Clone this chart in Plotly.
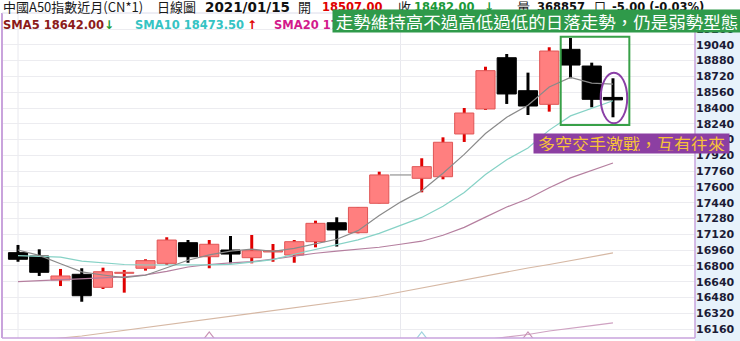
import plotly.graph_objects as go

# ---------------- data ----------------
opens  = [16935, 16901, 16658, 16716, 16584, 16726, 16777, 16827, 17036, 16894,
          16962, 16884, 16942, 16911, 17046, 17238, 17137, 17435, 17722, 17688,
          17704, 18137, 18390, 18909, 18575, 18437, 18994, 18825, 18507]
highs  = [17013, 16969, 16770, 16777, 16783, 16759, 16868, 17091, 17063, 17063,
          17104, 17114, 17023, 17063, 17259, 17293, 17394, 17755, 17722, 17891,
          18103, 18400, 18818, 18947, 18758, 19015, 19109, 18859, 18701]
lows   = [16843, 16699, 16597, 16438, 16567, 16530, 16753, 16810, 16833, 16777,
          16827, 16827, 16843, 16833, 16989, 16997, 17131, 17435, 17722, 17546,
          17678, 18056, 18380, 18441, 18329, 18363, 18701, 18407, 18306]
closes = [16868, 16736, 16699, 16499, 16742, 16736, 16854, 17063, 16894, 17020,
          16921, 16955, 16955, 17046, 17232, 17165, 17394, 17722, 17722, 17806,
          18053, 18349, 18778, 18542, 18420, 18977, 18835, 18488, 18482]

sma5  = [16962, 16907, 16823, 16740, 16709, 16682, 16706, 16779, 16858, 16913,
         16950, 16971, 16949, 16979, 17022, 17071, 17158, 17312, 17447, 17562,
         17739, 17930, 18142, 18306, 18428, 18613, 18710, 18652, 18642]
sma10 = [16905, 16900, 16890, 16850, 16830, 16815, 16810, 16808, 16808, 16811,
         16816, 16838, 16864, 16919, 16968, 17011, 17065, 17130, 17213, 17292,
         17405, 17544, 17727, 17876, 17995, 18176, 18320, 18397, 18474]
sma20 = [16641, 16650, 16660, 16668, 16678, 16689, 16710, 16745, 16790, 16815,
         16832, 16845, 16870, 16900, 16929, 16950, 16968, 16990, 17020, 17051,
         17111, 17191, 17295, 17397, 17481, 17593, 17692, 17764, 17843]
sma60 = [16014, 16042, 16071, 16091, 16119, 16149, 16177, 16206, 16234, 16262,
         16291, 16320, 16348, 16377, 16406, 16435, 16463, 16496, 16537, 16577,
         16618, 16658, 16699, 16739, 16780, 16815, 16856, 16896, 16932]
sma120_start = 18
sma120 = [15950, 15975, 16000, 16025, 16050, 16076, 16106, 16142, 16172, 16197, 16223]

marker_idx = [9, 19, 24]
marker_colors = ["#c893b4", "#9fd3df", "#c893b4"]

tick_labels = ["16160", "16320", "16480", "16640", "16800", "16960", "17120", "17280",
               "17440", "17600", "17760", "17920", "18080", "18240", "18400", "18560",
               "18720", "18880", "19040", "19200"]

# ---------------- geometry helpers ----------------
W, H = 740, 341
L, R, T, B = 2, 45, 13, 3
def px(x):
    return (x - L) / (W - L - R)
def py(y):
    return (H - B - y) / (H - T - B)

n = len(closes)
idx = list(range(n))

inc = [i for i in idx if closes[i] > opens[i]]
dec = [i for i in idx if closes[i] < opens[i]]
flat = [i for i in idx if closes[i] == opens[i] and highs[i] == lows[i]]

RED = "#e00000"
PINK = "#ff7f7f"

fig = go.Figure()

# wicks (drawn first so bodies cover them)
fig.add_trace(go.Bar(x=inc, base=[lows[i] for i in inc],
                     y=[highs[i] - lows[i] for i in inc], width=0.14,
                     marker=dict(color=RED, line=dict(width=0)), hoverinfo="skip"))
fig.add_trace(go.Bar(x=dec, base=[lows[i] for i in dec],
                     y=[highs[i] - lows[i] for i in dec], width=0.14,
                     marker=dict(color="#000000", line=dict(width=0)), hoverinfo="skip"))
# bodies
fig.add_trace(go.Bar(x=inc, base=[opens[i] for i in inc],
                     y=[closes[i] - opens[i] for i in inc], width=0.9,
                     marker=dict(color=PINK, line=dict(color="#e05555", width=1)),
                     hoverinfo="skip"))
fig.add_trace(go.Bar(x=dec, base=[closes[i] for i in dec],
                     y=[opens[i] - closes[i] for i in dec], width=0.9,
                     marker=dict(color="#000000", line=dict(color="#000000", width=1)),
                     hoverinfo="skip"))

# flat (holiday) day
for i in flat:
    fig.add_trace(go.Scatter(x=[i - 0.5, i + 0.5], y=[closes[i], closes[i]], mode="lines",
                             line=dict(color="#9a9a9a", width=1.3), hoverinfo="skip"))

# moving averages
fig.add_trace(go.Scatter(x=idx, y=sma60, mode="lines", line=dict(color="#d6b8a4", width=1.2), hoverinfo="skip"))
fig.add_trace(go.Scatter(x=list(range(sma120_start, sma120_start + len(sma120))), y=sma120, mode="lines",
                         line=dict(color="#cfa2c2", width=1.2), hoverinfo="skip"))
fig.add_trace(go.Scatter(x=idx, y=sma20, mode="lines", line=dict(color="#b57f9f", width=1.2), hoverinfo="skip"))
fig.add_trace(go.Scatter(x=idx, y=sma10, mode="lines", line=dict(color="#86d2c6", width=1.2), hoverinfo="skip"))
fig.add_trace(go.Scatter(x=idx, y=sma5, mode="lines", line=dict(color="#8a8a8a", width=1.2), hoverinfo="skip"))

# small bottom markers (half hidden by the bottom border)
fig.add_trace(go.Scatter(x=marker_idx, y=[16082] * len(marker_idx), mode="markers",
                         marker=dict(symbol="triangle-up-open", size=10, color=marker_colors,
                                     line=dict(width=1.2)), hoverinfo="skip"))

yvals = [int(t) for t in tick_labels]

shapes = []
# axis-side background
shapes.append(dict(type="rect", xref="paper", yref="paper", x0=1, x1=px(W), y0=py(H), y1=py(T),
                   fillcolor="#e7f2fb", line=dict(width=0), layer="below"))
# vertical month grid lines
for vx in [0, 18]:
    shapes.append(dict(type="line", xref="x", yref="paper", x0=vx, x1=vx, y0=0, y1=1,
                       line=dict(color="#e8e8ee", width=1), layer="below"))
# borders
shapes.append(dict(type="line", xref="paper", yref="paper", x0=0, x1=0, y0=0, y1=1,
                   line=dict(color="#c9a3dc", width=2)))
shapes.append(dict(type="line", xref="paper", yref="paper", x0=0, x1=1, y0=0, y1=0,
                   line=dict(color="#c9a3dc", width=1.5)))
shapes.append(dict(type="line", xref="paper", yref="paper", x0=1, x1=1, y0=0, y1=1,
                   line=dict(color="#c9a3dc", width=1.5)))
shapes.append(dict(type="line", xref="paper", yref="paper", x0=0, x1=px(W), y0=1, y1=1,
                   line=dict(color="#dcdcea", width=1)))
# highlight rectangle around last three candles and ellipse around the last one
shapes.append(dict(type="rect", xref="x", yref="y", x0=n - 3.46, x1=n - 0.23, y0=18228, y1=19122,
                   line=dict(color="#38a048", width=2)))
shapes.append(dict(type="circle", xref="x", yref="y", x0=n - 1.58, x1=n - 0.33, y0=18245, y1=18757,
                   line=dict(color="#8a3fa6", width=2)))

annotations = []
def txt(text, x, y, size, color, family="Noto Sans CJK TC", bold=False):
    annotations.append(dict(text=(f"<b>{text}</b>" if bold else text), xref="paper", yref="paper",
                            x=px(x), y=py(y), xanchor="left", yanchor="middle", showarrow=False,
                            font=dict(family=family, size=size, color=color)))

# header line 1
txt("中國A50指數近月(CN*1)", 1, 7, 13, "#1a1a1a")
txt("日線圖", 155, 7, 13, "#1a1a1a")
txt("2021/01/15", 203, 7, 13.5, "#111111", family="DejaVu Sans", bold=True)
txt("開", 296, 7, 13, "#1a1a1a")
txt("18507.00", 320, 7, 11.5, "#e00000", family="DejaVu Sans", bold=True)
txt("收", 396, 7, 13, "#1a1a1a")
txt("18482.00", 412, 7, 11.5, "#1c9a3a", family="DejaVu Sans", bold=True)
txt("↓", 482, 7, 12, "#1c9a3a", family="DejaVu Sans", bold=True)
txt("量", 515, 7, 13, "#1a1a1a")
txt("368857", 535, 7, 11.5, "#111111", family="DejaVu Sans", bold=True)
txt("口", 592, 7, 12, "#1a1a1a")
txt("-5.00 (-0.03%)", 610, 7, 11.5, "#111111", family="DejaVu Sans", bold=True)
# header line 2
txt("SMA5 18642.00", 1, 25, 11.5, "#8b1a1a", family="DejaVu Sans", bold=True)
txt("↓", 102, 25, 12, "#1c9a3a", family="DejaVu Sans", bold=True)
txt("SMA10 18473.50", 133, 25, 11.5, "#35c3c3", family="DejaVu Sans", bold=True)
txt("↑", 245, 25, 12, "#e00000", family="DejaVu Sans", bold=True)
txt("SMA20 17843.00", 272, 25, 11.5, "#d21a8c", family="DejaVu Sans", bold=True)

# green comment box (drawn after header text so it covers it)
annotations.append(dict(text="走勢維持高不過高低過低的日落走勢，仍是弱勢型態", xref="paper", yref="paper",
                        x=px(332), y=py(9), xanchor="left", yanchor="top", showarrow=False,
                        width=404, height=18, borderpad=2, bgcolor="#2f9a4a", align="center",
                        font=dict(family="Noto Sans CJK TC", size=17.5, color="#ffffff")))
# purple comment box
annotations.append(dict(text="多空交手激戰，互有往來", xref="paper", yref="paper",
                        x=px(533), y=py(133), xanchor="left", yanchor="top", showarrow=False,
                        width=191, height=15, borderpad=2, bgcolor="#8c3fa2", align="center",
                        font=dict(family="Noto Sans CJK TC", size=17, color="#f6c13a")))

fig.update_layout(
    width=W, height=H,
    margin=dict(l=L, r=R, t=T, b=B, pad=0),
    paper_bgcolor="#ffffff", plot_bgcolor="#ffffff",
    barmode="overlay", showlegend=False,
    xaxis=dict(range=[-0.753, 31.86], showticklabels=False, showgrid=False, zeroline=False,
               showline=False, ticks="", fixedrange=True),
    yaxis=dict(range=[16070.8, 19362], side="right", tickvals=yvals, ticktext=tick_labels,
               showgrid=True, gridcolor="#ececf0", gridwidth=1, zeroline=False, showline=False,
               ticks="", ticklen=0,
               tickfont=dict(family="DejaVu Sans", size=11, color="#1b1b36", weight="bold"),
               fixedrange=True),
    shapes=shapes, annotations=annotations,
)

fig.write_html("out.html")
